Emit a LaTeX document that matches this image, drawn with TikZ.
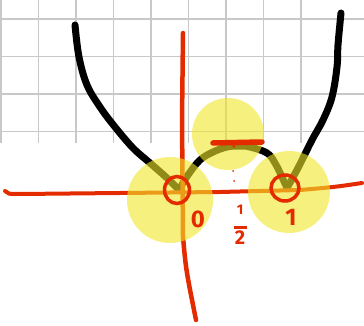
\documentclass[tikz,border=0pt]{standalone}
\usepackage{fontspec}
\setsansfont{Fira Sans}
\usepackage{tikz}
\usetikzlibrary{positioning}

\definecolor{penred}{HTML}{E42B00}
\definecolor{hlyellow}{HTML}{F0E628}
\definecolor{gridgray}{HTML}{C8C8C8}

\begin{document}
\begin{tikzpicture}[
    x=1pt, y=-1pt,
    gridline/.style={draw=gridgray, line width=1.5pt},
    curve/.style={draw=black, line width=7pt, line cap=round, line join=round},
    axis/.style={draw=penred, line width=4.5pt, line cap=round},
    highlight/.style={fill=hlyellow, fill opacity=0.6},
    ring/.style={draw=penred, line width=3.5pt},
    label/.style={text=penred, font=\sffamily\bfseries\fontsize{24}{24}\selectfont, inner sep=0pt}
]
\useasboundingbox (0,0) rectangle (364,326);

% Grid paper
\foreach \gx in {0.75,38.25,...,338} \draw[gridline] (\gx,0) -- (\gx,143);
\foreach \gy in {19,56.5,94,131.5} \draw[gridline] (0,\gy) -- (364,\gy);

% The curve
\draw[curve] plot[smooth, tension=0.6] coordinates {(75,25) (79,57) (87,85) (100,107) (115,127) (133,148) (150,163) (167,178) (179,190)};
\draw[curve] plot[smooth, tension=0.6] coordinates {(179,190) (188,175) (200,160) (213,152) (227,147) (240,146) (250,147) (267,153) (275,163) (282,177) (287,188)};
\draw[curve] plot[smooth, tension=0.6] coordinates {(287,188) (298,168) (312,140) (323,120) (332,97) (337,67) (338,45) (341,13)};

% Axes
\draw[axis] (183,33) -- (182,120) -- (183,237) .. controls (186,270) .. (196,320);
\draw[axis, line width=4pt] (5,191) .. controls (8,194) .. (20,194) -- (220,192) -- (300,190) .. controls (335,187) .. (362,183);

% Highlights
\fill[highlight] (170,200) circle (43);
\fill[highlight] (228,134) circle (36);
\fill[highlight] (289,192) circle (41);

% Critical points
\coordinate (zero) at (177,190);
\coordinate (half) at (236,143);
\coordinate (one) at (285,188);
\draw[ring] (zero) ellipse [x radius=12.5, y radius=13.5];
\draw[ring] (one) ellipse [x radius=14, y radius=13];
\draw[axis, line width=5.5pt] (213,143) -- (262,142);
\draw[axis, line width=2pt] (233,143) -- (234,147);
\fill[penred] (233,171) circle (1) (234,181) circle (1);

% Labels
\node[label] (lzero) at (198,219) {0};
\node[label, align=center, font=\sffamily\bfseries\fontsize{20}{20}\selectfont] (lhalf) at (240,225)
    {{\fontsize{14}{14}\selectfont 1}\\[-6pt]\rule{13pt}{3pt}\\[-4pt]2};
\node[label] (lone) at (291,217) {1};

\end{tikzpicture}
\end{document}
